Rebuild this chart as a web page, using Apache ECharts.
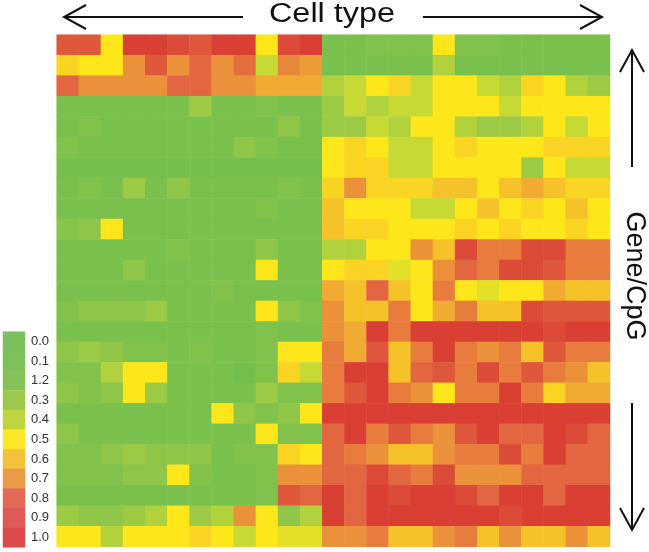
<!DOCTYPE html>
<html><head><meta charset="utf-8">
<script src="https://cdn.jsdelivr.net/npm/echarts@6/dist/echarts.min.js"></script>
<style>html,body{margin:0;padding:0;background:#fff}#c{width:649px;height:552px}</style>
</head><body><div id="c"></div><script>
// Columns = cell types (12 in the first group, 13 in the second), rows = genes/CpGs (top to bottom)
const cellTypes = ['A1','A2','A3','A4','A5','A6','A7','A8','A9','A10','A11','A12',
  'B1','B2','B3','B4','B5','B6','B7','B8','B9','B10','B11','B12','B13'];
const genes = ['G1','G2','G3','G4','G5','G6','G7','G8','G9','G10','G11','G12','G13',
  'G14','G15','G16','G17','G18','G19','G20','G21','G22','G23','G24','G25'];

const row01 = [0.85,0.85,0.5,0.95,0.95,0.9,0.85,0.95,0.95,0.5,0.9,0.95, 0.15,0.15,0.2,0.2,0.2,0.5,0.2,0.2,0.15,0.15,0.15,0.15,0.15];
const row02 = [0.55,0.5,0.5,0.7,0.85,0.7,0.8,0.7,0.78,0.4,0.72,0.68, 0.15,0.15,0.15,0.15,0.15,0.35,0.15,0.15,0.15,0.15,0.15,0.15,0.15];
const row03 = [0.8,0.7,0.7,0.7,0.7,0.8,0.8,0.7,0.7,0.65,0.65,0.65, 0.35,0.4,0.5,0.55,0.4,0.5,0.5,0.4,0.35,0.55,0.5,0.35,0.3];
const row04 = [0.15,0.15,0.15,0.15,0.15,0.15,0.3,0.15,0.15,0.2,0.15,0.15, 0.3,0.4,0.35,0.4,0.4,0.5,0.5,0.5,0.4,0.5,0.5,0.5,0.5];
const row05 = [0.15,0.2,0.15,0.15,0.15,0.15,0.15,0.15,0.15,0.15,0.25,0.15, 0.3,0.3,0.4,0.35,0.5,0.5,0.35,0.3,0.3,0.35,0.5,0.4,0.5];
const row06 = [0.2,0.15,0.15,0.15,0.15,0.15,0.15,0.15,0.25,0.2,0.15,0.15, 0.5,0.55,0.5,0.4,0.4,0.5,0.55,0.5,0.5,0.5,0.55,0.55,0.55];
const row07 = [0.12,0.12,0.12,0.12,0.12,0.12,0.12,0.12,0.12,0.12,0.12,0.12, 0.5,0.55,0.55,0.4,0.4,0.5,0.5,0.5,0.5,0.3,0.5,0.4,0.4];
const row08 = [0.15,0.2,0.15,0.3,0.15,0.25,0.15,0.15,0.15,0.15,0.2,0.15, 0.55,0.7,0.55,0.55,0.55,0.6,0.6,0.5,0.6,0.65,0.6,0.55,0.55];
const row09 = [0.15,0.15,0.15,0.15,0.15,0.15,0.15,0.15,0.15,0.2,0.15,0.15, 0.6,0.5,0.5,0.5,0.4,0.4,0.5,0.6,0.5,0.55,0.5,0.6,0.5];
const row10 = [0.22,0.25,0.5,0.15,0.15,0.15,0.15,0.15,0.15,0.15,0.15,0.15, 0.6,0.55,0.55,0.5,0.5,0.5,0.55,0.5,0.55,0.5,0.5,0.55,0.5];
const row11 = [0.15,0.15,0.15,0.15,0.15,0.2,0.15,0.15,0.15,0.25,0.15,0.15, 0.35,0.35,0.5,0.5,0.7,0.6,0.9,0.75,0.75,0.9,0.9,0.75,0.75];
const row12 = [0.15,0.15,0.15,0.25,0.15,0.15,0.15,0.15,0.15,0.5,0.15,0.15, 0.5,0.55,0.55,0.45,0.5,0.7,0.8,0.75,0.9,0.9,0.85,0.75,0.75];
const row13 = [0.15,0.15,0.15,0.15,0.15,0.15,0.15,0.2,0.15,0.15,0.15,0.15, 0.65,0.6,0.8,0.6,0.5,0.75,0.5,0.45,0.5,0.5,0.65,0.6,0.6];
const row14 = [0.2,0.25,0.25,0.25,0.3,0.15,0.15,0.15,0.15,0.5,0.25,0.2, 0.7,0.6,0.6,0.75,0.5,0.65,0.75,0.6,0.6,0.9,0.85,0.85,0.85];
const row15 = [0.15,0.15,0.15,0.15,0.15,0.15,0.15,0.15,0.15,0.2,0.15,0.15, 0.7,0.65,0.95,0.75,0.95,0.95,0.95,0.95,0.95,0.95,0.9,0.95,0.95];
const row16 = [0.25,0.3,0.25,0.2,0.2,0.15,0.2,0.15,0.15,0.2,0.5,0.5, 0.75,0.65,0.85,0.6,0.75,0.95,0.75,0.7,0.75,0.6,0.85,0.75,0.75];
const row17 = [0.2,0.2,0.35,0.5,0.5,0.15,0.15,0.15,0.1,0.2,0.55,0.4, 0.75,0.95,0.95,0.6,0.8,0.85,0.75,0.9,0.75,0.85,0.75,0.7,0.6];
const row18 = [0.25,0.2,0.25,0.5,0.3,0.15,0.15,0.15,0.15,0.3,0.2,0.2, 0.75,0.85,0.95,0.75,0.7,0.5,0.75,0.75,0.95,0.75,0.55,0.65,0.65];
const row19 = [0.15,0.15,0.15,0.15,0.15,0.15,0.15,0.5,0.25,0.2,0.25,0.5, 0.95,0.95,0.95,0.95,0.95,0.95,0.95,0.95,0.95,0.95,0.95,0.95,0.95];
const row20 = [0.25,0.15,0.15,0.15,0.15,0.15,0.15,0.15,0.15,0.5,0.2,0.2, 0.8,0.95,0.75,0.85,0.75,0.7,0.85,0.95,0.8,0.8,0.95,0.9,0.8];
const row21 = [0.2,0.2,0.25,0.3,0.25,0.25,0.25,0.15,0.2,0.2,0.55,0.5, 0.8,0.75,0.7,0.6,0.6,0.7,0.75,0.75,0.9,0.75,0.95,0.8,0.8];
const row22 = [0.2,0.2,0.2,0.25,0.25,0.5,0.2,0.15,0.15,0.2,0.7,0.7, 0.8,0.8,0.9,0.8,0.75,0.9,0.7,0.7,0.7,0.8,0.8,0.8,0.8];
const row23 = [0.15,0.15,0.15,0.15,0.15,0.15,0.15,0.15,0.15,0.2,0.85,0.8, 0.95,0.8,0.95,0.9,0.95,0.95,0.9,0.8,0.95,0.95,0.8,0.95,0.95];
const row24 = [0.3,0.25,0.25,0.3,0.35,0.5,0.3,0.35,0.7,0.5,0.25,0.35, 0.95,0.8,0.95,0.95,0.95,0.95,0.95,0.95,0.9,0.95,0.95,0.95,0.95];
const row25 = [0.5,0.5,0.35,0.5,0.5,0.5,0.55,0.5,0.4,0.5,0.45,0.45, 0.7,0.7,0.75,0.6,0.6,0.7,0.75,0.6,0.7,0.6,0.6,0.7,0.6];

// Colour key
const keyLabels = ['0.0','0.1','1.2','0.3','0.4','0.5','0.6','0.7','0.8','0.9','1.0'];
const keyValues = [0.0,0.1,0.2,0.3,0.4,0.5,0.6,0.7,0.8,0.9,1.0];

const rows = [row01,row02,row03,row04,row05,row06,row07,row08,row09,row10,row11,row12,row13,
  row14,row15,row16,row17,row18,row19,row20,row21,row22,row23,row24,row25];
const heatData = [];
rows.forEach((r, ri) => r.forEach((v, ci) => heatData.push([ci, ri, v])));
const keyData = keyValues.map((v, i) => [0, i, v]);

const mainColors = ['#6cbb4e','#74be4e','#80c24c','#9dca44','#c6d935','#fde619','#f6c22a','#eb913a','#e2663f','#dc4a38','#d83330'];
const keyColors = ['#7cbf5e','#7dc05c','#84c35a','#9cc94c','#bfd53e','#fde72a','#f4c23a','#eb9a45','#e26a55','#de5a57','#dc4a4c'];

const chart = echarts.init(document.getElementById('c'), null, {renderer:'canvas'});
const FONT = '"Liberation Sans", Arial, sans-serif';
chart.setOption({
  animation: false,
  grid: [
    {left: 56.7, top: 34.7, width: 553.3, height: 512},
    {left: 3, top: 331.7, width: 22, height: 215.6}
  ],
  xAxis: [
    {type:'category', data: cellTypes, gridIndex:0, show:false},
    {type:'category', data: ['key'], gridIndex:1, show:false}
  ],
  yAxis: [
    {type:'category', data: genes, gridIndex:0, inverse:true, show:false},
    {type:'category', data: keyLabels, gridIndex:1, inverse:true, position:'right',
     axisLine:{show:false}, axisTick:{show:false}, splitLine:{show:false},
     axisLabel:{show:true, margin:6, fontSize:13, color:'#333', fontFamily: FONT}}
  ],
  visualMap: [
    {type:'continuous', show:false, min:0, max:1, seriesIndex:0, dimension:2, inRange:{color: mainColors}},
    {type:'continuous', show:false, min:0, max:1, seriesIndex:1, dimension:2, inRange:{color: keyColors}}
  ],
  series: [
    {type:'heatmap', xAxisIndex:0, yAxisIndex:0, data: heatData, itemStyle:{borderWidth:0}, emphasis:{disabled:true}, progressive:0},
    {type:'heatmap', xAxisIndex:1, yAxisIndex:1, data: keyData, itemStyle:{borderWidth:0}, emphasis:{disabled:true}}
  ],
  graphic: [
    {type:'text', x:332, y:15, scaleX:1.2, originX:0, style:{text:'Cell type', font:'27px ' + FONT, fill:'#111', align:'center', verticalAlign:'middle'}},
    {type:'text', x:634, y:276, rotation:-Math.PI/2, style:{text:'Gene/CpG', font:'27px ' + FONT, fill:'#111', align:'center', verticalAlign:'middle'}},
    {type:'line', shape:{x1:243, y1:17, x2:64, y2:17}, style:{stroke:'#111', lineWidth:2}},
    {type:'polyline', shape:{points:[[86,5],[64,17],[86,29]]}, style:{stroke:'#111', lineWidth:2, fill:null}},
    {type:'line', shape:{x1:423, y1:17, x2:602, y2:17}, style:{stroke:'#111', lineWidth:2}},
    {type:'polyline', shape:{points:[[580,5],[602,17],[580,29]]}, style:{stroke:'#111', lineWidth:2, fill:null}},
    {type:'line', shape:{x1:632, y1:167, x2:632, y2:50}, style:{stroke:'#111', lineWidth:2}},
    {type:'polyline', shape:{points:[[620,72],[632,50],[644,72]]}, style:{stroke:'#111', lineWidth:2, fill:null}},
    {type:'line', shape:{x1:632, y1:403, x2:632, y2:530}, style:{stroke:'#111', lineWidth:2}},
    {type:'polyline', shape:{points:[[620,508],[632,530],[644,508]]}, style:{stroke:'#111', lineWidth:2, fill:null}}
  ]
});
</script></body></html>
